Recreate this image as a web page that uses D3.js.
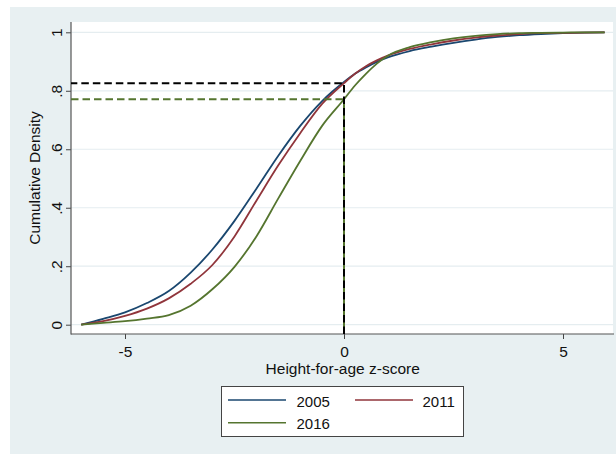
<!DOCTYPE html>
<html>
<head>
<meta charset="utf-8">
<script src="https://cdn.jsdelivr.net/npm/d3@7"></script>
<style>
  html, body { margin: 0; padding: 0; background: #ffffff; }
  svg { display: block; }
  text { font-family: "Liberation Sans", Arial, Helvetica, sans-serif; fill: #111; }
</style>
</head>
<body>
<svg id="chart" width="616" height="454"></svg>
<script>
// ---- data ----
const zScores = [-6, -5.5, -5, -4.5, -4, -3.5, -3, -2.5, -2, -1.5, -1, -0.5, 0, 0.25, 0.5, 0.75, 1, 1.5, 2, 2.5, 3, 3.5, 4, 4.5, 5, 5.5, 5.95];
const cdf2005 = [0, 0.020, 0.042, 0.074, 0.115, 0.178, 0.258, 0.355, 0.465, 0.578, 0.680, 0.765, 0.830, 0.858, 0.880, 0.899, 0.914, 0.936, 0.951, 0.964, 0.975, 0.984, 0.990, 0.994, 0.997, 0.999, 1.0];
const cdf2011 = [0, 0.012, 0.030, 0.055, 0.090, 0.140, 0.205, 0.302, 0.424, 0.545, 0.655, 0.755, 0.826, 0.858, 0.884, 0.904, 0.920, 0.943, 0.959, 0.972, 0.982, 0.989, 0.994, 0.997, 0.998, 0.999, 1.0];
const cdf2016 = [0, 0.006, 0.012, 0.021, 0.033, 0.065, 0.122, 0.198, 0.302, 0.432, 0.560, 0.680, 0.771, 0.818, 0.858, 0.893, 0.920, 0.949, 0.966, 0.979, 0.988, 0.994, 0.997, 0.998, 0.999, 1.0, 1.0];
const seriesNames = ["2005", "2011", "2016"];
const xTicks = [-5, 0, 5];
const yTicks = [0, 0.2, 0.4, 0.6, 0.8, 1];
const yTickLabels = ["0", ".2", ".4", ".6", ".8", "1"];
const refZ = 0;
const refBlack = 0.826;
const refGreen = 0.771;

// ---- layout ----
const svg = d3.select("#chart");
const colors = { "2005": "#1a476f", "2011": "#90353b", "2016": "#55752f" };
const plot = { left: 71, right: 613, top: 22, bottom: 334 };
const fs = 15.5;

const x = d3.scaleLinear().domain([-5, 5]).range([125, 563]);
const y = d3.scaleLinear().domain([0, 1]).range([324.7, 32.3]);

// graph region background
svg.append("rect").attr("x", 10).attr("y", 7).attr("width", 606).attr("height", 447)
  .attr("fill", "#e8f0f2");
// plot region
svg.append("rect").attr("x", plot.left).attr("y", plot.top)
  .attr("width", plot.right - plot.left).attr("height", plot.bottom - plot.top)
  .attr("fill", "#ffffff");

// grid lines
svg.append("g").selectAll("line").data(yTicks).join("line")
  .attr("x1", plot.left).attr("x2", plot.right)
  .attr("y1", d => y(d)).attr("y2", d => y(d))
  .attr("stroke", "#e5edf0").attr("stroke-width", 1.2);

// axes
const yAxis = d3.axisLeft(y).tickValues(yTicks).tickSize(5)
  .tickFormat((d, i) => yTickLabels[i]);
const gy = svg.append("g").attr("transform", `translate(${plot.left},0)`).call(yAxis);
gy.select(".domain").remove();
gy.selectAll(".tick line").attr("stroke", "#444");
gy.selectAll(".tick text")
  .attr("font-size", fs)
  .attr("fill", "#111")
  .attr("text-anchor", "middle")
  .attr("x", 0).attr("dy", 0)
  .attr("transform", "translate(-9.5,0) rotate(-90)");

const xAxis = d3.axisBottom(x).tickValues(xTicks).tickSize(5).tickFormat(d3.format("d"));
const gx = svg.append("g").attr("transform", `translate(0,${plot.bottom})`).call(xAxis);
gx.select(".domain").remove();
gx.selectAll(".tick line").attr("stroke", "#444");
gx.selectAll(".tick text").attr("font-size", fs).attr("fill", "#111")
  .attr("y", 22.7).attr("dy", 0);
gx.selectAll(".tick text").text(d => d < 0 ? "-" + Math.abs(d) : String(d));

// axis lines
svg.append("line").attr("x1", plot.left).attr("x2", plot.left)
  .attr("y1", plot.top).attr("y2", plot.bottom + 0.5).attr("stroke", "#555").attr("stroke-width", 1.2);
svg.append("line").attr("x1", plot.left).attr("x2", plot.right + 1)
  .attr("y1", plot.bottom).attr("y2", plot.bottom).attr("stroke", "#555").attr("stroke-width", 1.2);

// curves
const series = [
  { name: "2005", values: cdf2005 },
  { name: "2011", values: cdf2011 },
  { name: "2016", values: cdf2016 }
];
const line = d3.line().x(d => x(d[0])).y(d => y(d[1])).curve(d3.curveMonotoneX);
svg.append("g").selectAll("path").data(series).join("path")
  .attr("d", s => line(zScores.map((z, i) => [z, s.values[i]])))
  .attr("fill", "none")
  .attr("stroke", s => colors[s.name])
  .attr("stroke-width", 1.8);

// reference dashed lines
const xLeft = x.invert(plot.left);
const yBottom = y.invert(plot.bottom);
const refPath = v => d3.line()([[x(xLeft), y(v)], [x(refZ), y(v)], [x(refZ), y(yBottom)]]);
const period = 11.5;
const diff = y(refGreen) - y(refBlack);
const blackOffset = (((5.75 - diff) % period) + period) % period;
svg.append("path").attr("d", refPath(refGreen)).attr("fill", "none")
  .attr("stroke", "#55752f").attr("stroke-width", 2).attr("stroke-dasharray", "7.5,4");
svg.append("path").attr("d", refPath(refBlack)).attr("fill", "none")
  .attr("stroke", "#000").attr("stroke-width", 2).attr("stroke-dasharray", "7.5,4")
  .attr("stroke-dashoffset", blackOffset);

// axis titles
svg.append("text").attr("x", 342.7).attr("y", 374.3).attr("text-anchor", "middle")
  .attr("font-size", fs).text("Height-for-age z-score");
svg.append("text").attr("transform", `translate(40,${(plot.top + plot.bottom) / 2}) rotate(-90)`)
  .attr("text-anchor", "middle").attr("font-size", fs).text("Cumulative Density");

// legend
const lg = svg.append("g");
lg.append("rect").attr("x", 221.5).attr("y", 386.5).attr("width", 242).attr("height", 50)
  .attr("fill", "#fff").attr("stroke", "#444").attr("stroke-width", 1);
const legendPos = [
  { name: "2005", lx: 228, ly: 400, tx: 296.5, ty: 407.3 },
  { name: "2011", lx: 355, ly: 400, tx: 422.5, ty: 407.3 },
  { name: "2016", lx: 228, ly: 422.7, tx: 296.5, ty: 429.3 }
];
legendPos.forEach(p => {
  lg.append("line").attr("x1", p.lx).attr("x2", p.lx + 58).attr("y1", p.ly).attr("y2", p.ly)
    .attr("stroke", colors[p.name]).attr("stroke-width", 1.5);
  lg.append("text").attr("x", p.tx).attr("y", p.ty).attr("font-size", 15).text(p.name);
});
</script>
</body>
</html>
